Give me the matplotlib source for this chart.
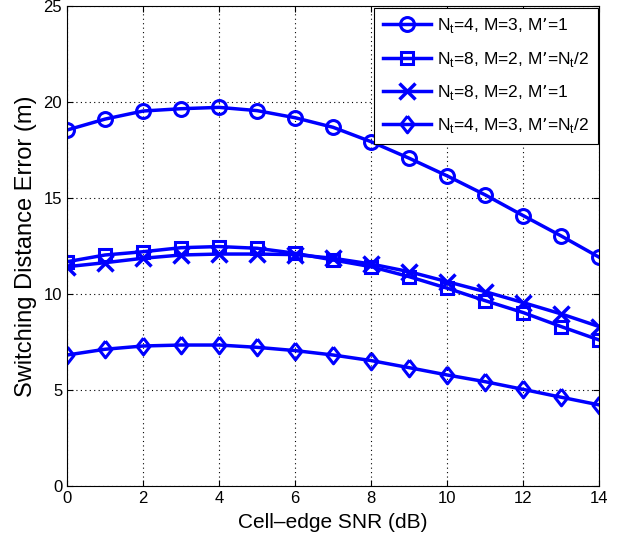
import matplotlib
matplotlib.use('Agg')
import matplotlib.pyplot as plt
import numpy as np

plt.rcParams['font.family'] = ['Liberation Sans', 'DejaVu Sans']

snr = list(range(0, 15))
nt4_m3_1 = [18.54, 19.11, 19.53, 19.65, 19.72, 19.55, 19.18, 18.68, 17.93, 17.07, 16.15, 15.16, 14.08, 13.02, 11.91]
nt8_m2_half = [11.68, 12.03, 12.2, 12.41, 12.47, 12.38, 12.12, 11.77, 11.42, 10.9, 10.3, 9.65, 9.03, 8.3, 7.6]
nt8_m2_1 = [11.42, 11.63, 11.86, 12.03, 12.08, 12.08, 12.05, 11.86, 11.56, 11.16, 10.64, 10.12, 9.55, 8.96, 8.3]
nt4_m3_half = [6.82, 7.12, 7.29, 7.34, 7.34, 7.22, 7.05, 6.82, 6.53, 6.16, 5.78, 5.43, 5.03, 4.62, 4.22]

labels = [r'N$_\mathregular{t}$=4, M=3, M’=1',
          r'N$_\mathregular{t}$=8, M=2, M’=N$_\mathregular{t}$/2',
          r'N$_\mathregular{t}$=8, M=2, M’=1',
          r'N$_\mathregular{t}$=4, M=3, M’=N$_\mathregular{t}$/2']

# wider diamond than matplotlib's 'd'
diamond = [(0, 1), (0.78, 0), (0, -1), (-0.78, 0), (0, 1)]

fig = plt.figure(figsize=(6.21, 5.46), dpi=100)
ax = fig.add_axes([0.108, 0.110, 0.857, 0.879])

blue = (0, 0, 1)
ax.plot(snr, nt4_m3_1, '-o', color=blue, lw=2.5, ms=10, mew=2.2, mfc='none', label=labels[0])
ax.plot(snr, nt8_m2_half, '-s', color=blue, lw=2.5, ms=9, mew=2.2, mfc='none', label=labels[1])
ax.plot(snr, nt8_m2_1, '-x', color=blue, lw=2.5, ms=11, mew=2.5, label=labels[2])
ax.plot(snr, nt4_m3_half, '-', marker=diamond, color=blue, lw=2.5, ms=12, mew=2.2, mfc='none', label=labels[3])

ax.set_xlim(0, 14)
ax.set_ylim(0, 25)
ax.set_xticks(range(0, 15, 2))
ax.set_yticks(range(0, 26, 5))
ax.grid(True, color='black', linestyle=(0, (1, 3)), linewidth=0.8)
ax.tick_params(direction='in', labelsize=12, top=True, right=True, length=4)
for s in ax.spines.values():
    s.set_linewidth(0.8)

ax.set_xlabel('Cell\u2013edge SNR (dB)', fontsize=15, labelpad=5)
ax.set_ylabel('Switching Distance Error (m)', fontsize=17, labelpad=5)

leg = ax.legend(loc='upper right', fontsize=12.5, fancybox=False, framealpha=1,
                edgecolor='black', borderaxespad=0.1, handlelength=2.8,
                handletextpad=0.3, labelspacing=0.82, borderpad=0.5)
leg.get_frame().set_linewidth(0.8)

plt.savefig('out.png')
